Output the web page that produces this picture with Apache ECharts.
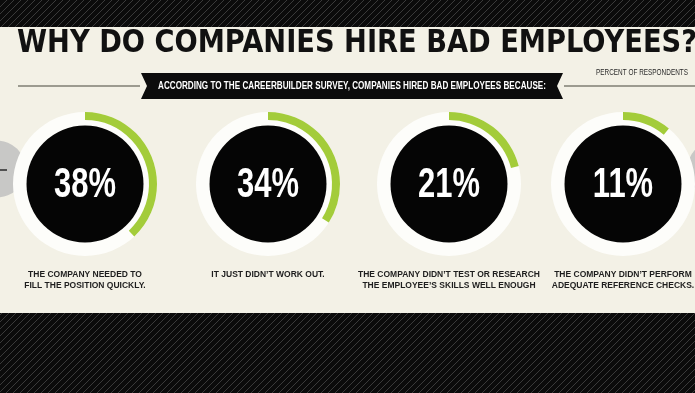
<!DOCTYPE html>
<html>
<head>
<meta charset="utf-8">
<script src="https://cdn.jsdelivr.net/npm/echarts@6/dist/echarts.min.js"></script>
<style>html,body{margin:0;padding:0;background:#0b0b0b}#c{width:695px;height:393px}</style>
</head>
<body>
<div id="c"></div>
<script>
const titleText = 'WHY DO COMPANIES HIRE BAD EMPLOYEES?';
const bannerText = 'ACCORDING TO THE CAREERBUILDER SURVEY, COMPANIES HIRED BAD EMPLOYEES BECAUSE:';
const unitText = 'PERCENT OF RESPONDENTS';
const categories = [
  'THE COMPANY NEEDED TO\nFILL THE POSITION QUICKLY.',
  'IT JUST DIDN\u2019T WORK OUT.',
  'THE COMPANY DIDN\u2019T TEST OR RESEARCH\nTHE EMPLOYEE\u2019S SKILLS WELL ENOUGH',
  'THE COMPANY DIDN\u2019T PERFORM\nADEQUATE REFERENCE CHECKS.'
];
const values = [38, 34, 21, 11];

const centersX = [85, 268, 449, 623];
const centerY = 184;

const chart = echarts.init(document.getElementById('c'), null, {renderer: 'canvas'});

// stripe pattern
const S = 7;
const pc = document.createElement('canvas');
pc.width = S; pc.height = S;
const pctx = pc.getContext('2d');
pctx.fillStyle = '#0b0b0b';
pctx.fillRect(0, 0, S, S);
pctx.strokeStyle = '#3a3a3a';
pctx.lineWidth = 1;
pctx.beginPath();
pctx.moveTo(0, S); pctx.lineTo(S, 0);
pctx.moveTo(-1, 1); pctx.lineTo(1, -1);
pctx.moveTo(S - 1, S + 1); pctx.lineTo(S + 1, S - 1);
pctx.stroke();

const mctx = document.createElement('canvas').getContext('2d');
function fitScale(text, font, target) {
  mctx.font = font;
  return target / mctx.measureText(text).width;
}

const titleFont = 'bold 32px "DejaVu Sans"';
const titleScale = fitScale(titleText, titleFont, 680);
const bannerFont = 'bold 10px "Liberation Sans"';
const bannerScale = fitScale(bannerText, bannerFont, 388);
const unitFont = '9px "Liberation Sans"';
const unitScale = fitScale(unitText, unitFont, 92);
const labelFont = 'bold 9px "Liberation Sans"';
const labelScale = fitScale('THE COMPANY DIDN\u2019T TEST OR RESEARCH', labelFont, 182);

const graphics = [
  {type: 'rect', shape: {x: 0, y: 0, width: 695, height: 393}, style: {fill: {image: pc, repeat: 'repeat'}}, z: 0, silent: true},
  {type: 'rect', shape: {x: 0, y: 27, width: 695, height: 286}, style: {fill: '#f3f1e6'}, z: 0, silent: true},
  // nav circles
  {type: 'circle', shape: {cx: -3, cy: 169, r: 28.5}, style: {fill: '#c8c8c6'}, z: 1, silent: true},
  {type: 'line', shape: {x1: 0, y1: 170, x2: 7, y2: 170}, style: {stroke: '#2a2a2a', lineWidth: 1.5}, z: 1, silent: true},
  {type: 'circle', shape: {cx: 716, cy: 169, r: 28.5}, style: {fill: '#c8c8c6'}, z: 1, silent: true},
  // title
  {type: 'text', x: 17, y: 44, scaleX: titleScale, z: 5, silent: true,
    style: {text: titleText, font: titleFont, fill: '#111', textAlign: 'left', textVerticalAlign: 'middle'}},
  // rules
  {type: 'line', shape: {x1: 18, y1: 86, x2: 140, y2: 86}, style: {stroke: '#9c9b90', lineWidth: 2}, z: 1, silent: true},
  {type: 'line', shape: {x1: 564, y1: 86, x2: 695, y2: 86}, style: {stroke: '#9c9b90', lineWidth: 2}, z: 1, silent: true},
  // banner
  {type: 'polygon', shape: {points: [[141, 73], [563, 73], [557, 86], [563, 99], [141, 99], [147, 86]]}, style: {fill: '#0c0c0c'}, z: 2, silent: true},
  {type: 'text', x: 352, y: 86, scaleX: bannerScale, z: 5, silent: true,
    style: {text: bannerText, font: bannerFont, fill: '#ffffff', textAlign: 'center', textVerticalAlign: 'middle'}},
  {type: 'text', x: 596, y: 73, scaleX: unitScale, z: 5, silent: true,
    style: {text: unitText, font: unitFont, fill: '#2a2a2a', textAlign: 'left', textVerticalAlign: 'middle'}}
];

const series = [];
values.forEach(function (v, i) {
  const cx = centersX[i];
  series.push({
    type: 'gauge', center: [cx, centerY], radius: 72, startAngle: 90, endAngle: -270,
    min: 0, max: 100, silent: true, z: 2,
    axisLine: {lineStyle: {width: 14, color: [[1, '#fdfdfa']]}},
    progress: {show: true, width: 8, roundCap: false, itemStyle: {color: '#a3cc3a'}},
    pointer: {show: false}, axisTick: {show: false}, splitLine: {show: false}, axisLabel: {show: false},
    anchor: {show: false}, title: {show: false}, detail: {show: false},
    data: [{value: v}]
  });
  series.push({
    type: 'pie', center: [cx, centerY], radius: [0, 58.5], silent: true, z: 3,
    label: {show: false}, labelLine: {show: false}, animation: false,
    itemStyle: {color: '#050505'}, data: [{value: 1, name: String(v)}]
  });
  graphics.push({type: 'text', x: cx, y: centerY + 1, scaleX: 0.72, z: 10, silent: true,
    style: {text: v + '%', font: 'bold 43px "Liberation Sans"', fill: '#ffffff', textAlign: 'center', textVerticalAlign: 'middle'}});
  graphics.push({type: 'text', x: cx, y: 269, scaleX: labelScale, z: 10, silent: true,
    style: {text: categories[i], font: labelFont, lineHeight: 11, fill: '#1e1e1e', textAlign: 'center', textVerticalAlign: 'top'}});
});

chart.setOption({
  animation: false,
  backgroundColor: '#0b0b0b',
  graphic: {elements: graphics},
  series: series
});
</script>
</body>
</html>
